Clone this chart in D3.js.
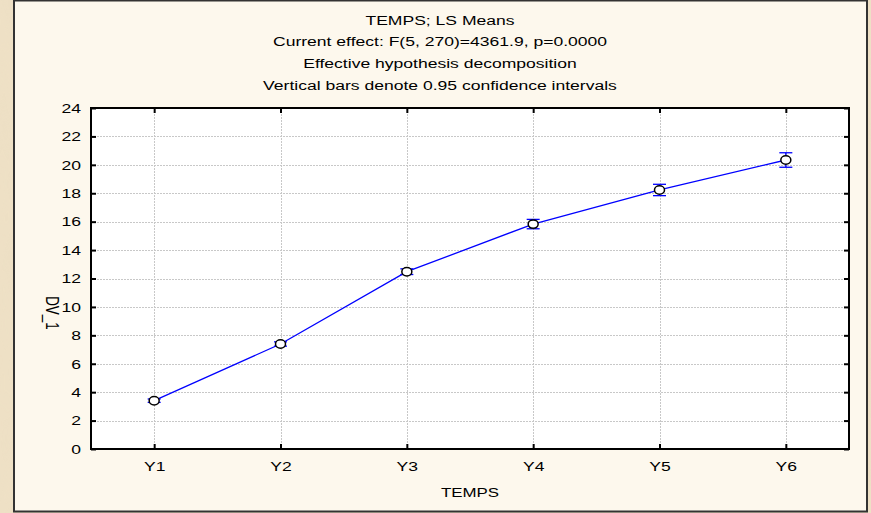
<!DOCTYPE html>
<html>
<head>
<meta charset="utf-8">
<script src="https://cdn.jsdelivr.net/npm/d3@7"></script>
<style>
  html, body { margin: 0; padding: 0; background: #eadbbd; }
  svg { display: block; }
  text { font-family: "Liberation Sans", Arial, sans-serif; fill: #000; }
</style>
</head>
<body>
<svg id="chart" width="871" height="513"></svg>
<script>
// LS means of DV_1 at each level of TEMPS, with 0.95 confidence half-widths
const categories = ["Y1", "Y2", "Y3", "Y4", "Y5", "Y6"];
const means = [3.40, 7.39, 12.48, 15.83, 18.23, 20.34];
const ciHalf = [0.12, 0.15, 0.20, 0.33, 0.40, 0.51];
const yTicks = [0, 2, 4, 6, 8, 10, 12, 14, 16, 18, 20, 22, 24];
const titleLines = [
  "TEMPS; LS Means",
  "Current effect: F(5, 270)=4361.9, p=0.0000",
  "Effective hypothesis decomposition",
  "Vertical bars denote 0.95 confidence intervals"
];

const data = categories.map((c, i) => ({ cat: c, mean: means[i], half: ciHalf[i] }));

// the window's lettering is drawn wide
const FONT = 13.5, WIDEN = 1.3;

const svg = d3.select("#chart");
const W = 871, H = 513;

// parchment texture behind the graph window
const defs = svg.append("defs");
const f = defs.append("filter").attr("id", "paper").attr("x", 0).attr("y", 0).attr("width", 1).attr("height", 1);
f.append("feTurbulence").attr("type", "fractalNoise").attr("baseFrequency", "0.04 0.012").attr("numOctaves", 3).attr("seed", 7).attr("result", "n");
f.append("feColorMatrix").attr("in", "n").attr("type", "matrix")
  .attr("values", "0 0 0 0 0.80  0 0 0 0 0.70  0 0 0 0 0.52  0 0 0 0.5 0");
svg.append("rect").attr("width", W).attr("height", H).attr("fill", "#efe1c6");
svg.append("rect").attr("width", W).attr("height", H).attr("filter", "url(#paper)").attr("opacity", 0.55);

// graph window
svg.append("rect")
  .attr("x", 14).attr("y", 0.5).attr("width", 853).attr("height", 511)
  .attr("fill", "#fdf8ed").attr("stroke", "#333").attr("stroke-width", 2);

// titles
svg.append("g").selectAll("text").data(titleLines).join("text")
  .attr("transform", (d, i) => `translate(440,${24.5 + i * 21.8}) scale(${WIDEN},1)`)
  .attr("text-anchor", "middle").attr("font-size", FONT)
  .text(d => d);

const m = { left: 91, right: 849, top: 108, bottom: 449 };

const x = d3.scalePoint().domain(categories).range([m.left, m.right]).padding(0.5);
const y = d3.scaleLinear().domain([0, 24]).range([m.bottom, m.top]);

// plot area
svg.append("rect")
  .attr("x", m.left).attr("y", m.top)
  .attr("width", m.right - m.left).attr("height", m.bottom - m.top)
  .attr("fill", "#fff");

// dotted grid
const grid = svg.append("g").attr("stroke", "#c8c8c8").attr("stroke-width", 1).attr("stroke-dasharray", "2,1");
grid.selectAll("line.h").data(yTicks.slice(1, -1)).join("line")
  .attr("x1", m.left).attr("x2", m.right)
  .attr("y1", d => Math.round(y(d)) + 0.5).attr("y2", d => Math.round(y(d)) + 0.5);
grid.selectAll("line.v").data(categories).join("line")
  .attr("y1", m.top).attr("y2", m.bottom)
  .attr("x1", d => Math.round(x(d)) + 0.5).attr("x2", d => Math.round(x(d)) + 0.5);

// axes: ticks point into the plot area
const axisStyle = g => {
  g.select(".domain").remove();
  g.selectAll(".tick line").attr("stroke", "#000").attr("stroke-width", 2);
  g.selectAll(".tick text")
    .attr("font-size", FONT).attr("font-family", "Liberation Sans, Arial, sans-serif")
    .attr("transform", `scale(${WIDEN},1)`);
};

svg.append("g").attr("transform", `translate(${m.left},0)`)
  .call(d3.axisLeft(y).tickValues(yTicks).tickSizeInner(-5).tickSizeOuter(0).tickPadding(7.7))
  .call(axisStyle);
svg.append("g").attr("transform", `translate(${m.right},0)`)
  .call(d3.axisRight(y).tickValues(yTicks).tickSizeInner(-5).tickSizeOuter(0).tickFormat(""))
  .call(axisStyle);
svg.append("g").attr("transform", `translate(0,${m.bottom})`)
  .call(d3.axisBottom(x).tickSizeInner(-5).tickSizeOuter(0).tickPadding(12))
  .call(axisStyle);
svg.append("g").attr("transform", `translate(0,${m.top})`)
  .call(d3.axisTop(x).tickSizeInner(-5).tickSizeOuter(0).tickFormat(""))
  .call(axisStyle);

// frame
svg.append("rect")
  .attr("x", m.left).attr("y", m.top)
  .attr("width", m.right - m.left).attr("height", m.bottom - m.top)
  .attr("fill", "none").attr("stroke", "#000").attr("stroke-width", 2);

// axis titles
svg.append("text").attr("transform", `translate(470,497) scale(${WIDEN},1)`)
  .attr("text-anchor", "middle").attr("font-size", FONT - 0.5).text("TEMPS");
svg.append("text")
  .attr("transform", `translate(46,313) scale(${WIDEN},1) rotate(90)`)
  .attr("text-anchor", "middle").attr("font-size", FONT).text("DV_1");

// mean line
svg.append("path").datum(data)
  .attr("fill", "none").attr("stroke", "#0000ff").attr("stroke-width", 1.3)
  .attr("d", d3.line().x(d => x(d.cat)).y(d => y(d.mean)));

// confidence interval bars
const eb = svg.append("g").attr("stroke", "#0000ff").attr("stroke-width", 1.3);
eb.selectAll("line.v").data(data).join("line")
  .attr("x1", d => x(d.cat)).attr("x2", d => x(d.cat))
  .attr("y1", d => y(d.mean - d.half)).attr("y2", d => y(d.mean + d.half));
eb.selectAll("line.lo").data(data).join("line")
  .attr("x1", d => x(d.cat) - 6.5).attr("x2", d => x(d.cat) + 6.5)
  .attr("y1", d => y(d.mean - d.half)).attr("y2", d => y(d.mean - d.half));
eb.selectAll("line.hi").data(data).join("line")
  .attr("x1", d => x(d.cat) - 6.5).attr("x2", d => x(d.cat) + 6.5)
  .attr("y1", d => y(d.mean + d.half)).attr("y2", d => y(d.mean + d.half));

// markers
svg.append("g").selectAll("ellipse").data(data).join("ellipse")
  .attr("cx", d => x(d.cat)).attr("cy", d => y(d.mean))
  .attr("rx", 5).attr("ry", 4.2)
  .attr("fill", "#fff").attr("stroke", "#000").attr("stroke-width", 1.5);
</script>
</body>
</html>
